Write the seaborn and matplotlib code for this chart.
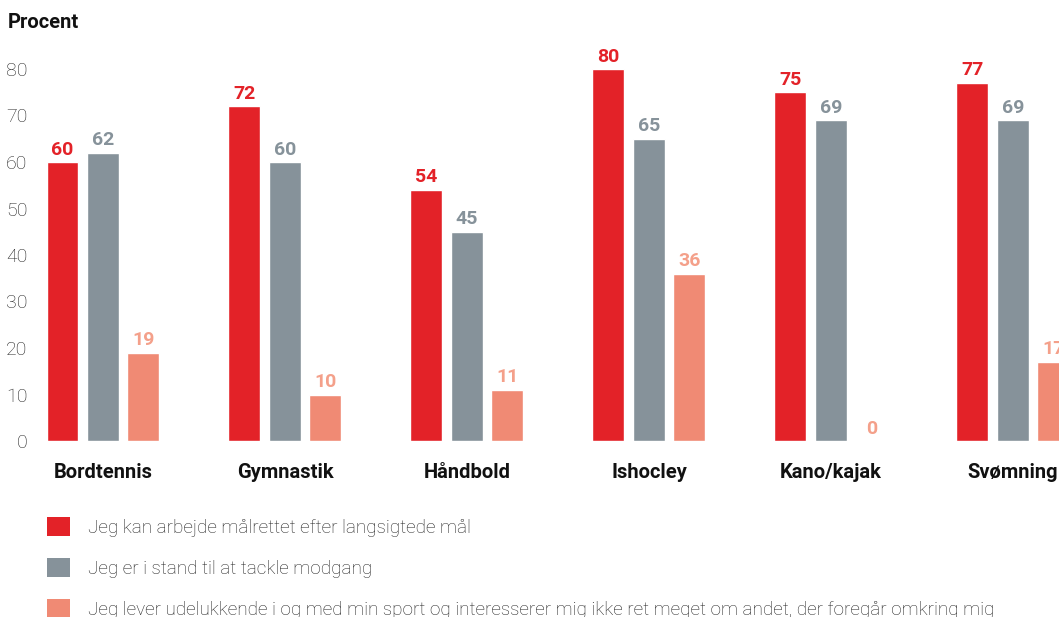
import matplotlib
matplotlib.use("Agg")
import matplotlib.pyplot as plt
from matplotlib.patches import Patch
from matplotlib.transforms import ScaledTranslation
import seaborn as sns
import pandas as pd

sports = ["Bordtennis", "Gymnastik", "Håndbold", "Ishocley", "Kano/kajak", "Svømning"]
series = [
    "Jeg kan arbejde målrettet efter langsigtede mål",
    "Jeg er i stand til at tackle modgang",
    "Jeg lever udelukkende i og med min sport og interesserer mig ikke ret meget om andet, der foregår omkring mig",
]
maal = [60, 72, 54, 80, 75, 77]
modgang = [62, 60, 45, 65, 69, 69]
kun_sport = [19, 10, 11, 36, 0, 17]
yticks = [0, 10, 20, 30, 40, 50, 60, 70, 80]

bar_colors = ["#E32228", "#86929A", "#F08A74"]
label_colors = ["#E32228", "#86929A", "#F4A08A"]

df = pd.DataFrame({
    "sport": sports * 3,
    "serie": [series[0]] * 6 + [series[1]] * 6 + [series[2]] * 6,
    "value": maal + modgang + kun_sport,
})

sns.set_theme(style="white")
plt.rcParams["font.family"] = ["Roboto", "DejaVu Sans"]

W, H = 1059, 617
fig = plt.figure(figsize=(W / 100, H / 100), dpi=100)
ax = fig.add_axes([37 / W, (H - 441) / H, (W - 37) / W, 395.25 / H])

sns.barplot(data=df, x="sport", y="value", hue="serie", hue_order=series,
            palette=bar_colors, width=0.6675, gap=0.21, saturation=1,
            legend=False, ax=ax)

for cont, col in zip(ax.containers, label_colors):
    ax.bar_label(cont, fmt="%d", padding=2.5, color=col, fontsize=14,
                 fontweight="bold", clip_on=False)

ax.set_xlim(-0.3626, 5.253)
ax.set_ylim(0, 85)
ax.set_yticks(yticks)
ax.set_yticklabels([str(v) for v in yticks], fontsize=14, fontweight="light", color="#222222")
lift = ScaledTranslation(0, 0.04, fig.dpi_scale_trans)
for lab in ax.get_yticklabels():
    lab.set_transform(lab.get_transform() + lift)
ax.tick_params(axis="y", length=0, pad=7)
ax.tick_params(axis="x", length=0, pad=15.5, labelsize=14.5, labelcolor="#111111")
for lab in ax.get_xticklabels():
    lab.set_fontweight("bold")
ax.set_xlabel("")
ax.set_ylabel("")
for s in ax.spines.values():
    s.set_visible(False)
ax.grid(False)

fig.text(8 / W, 1 - 22 / H, "Procent", fontsize=14.5, fontweight="bold",
         color="#111111", va="center", ha="left")

handles = [Patch(facecolor=c, edgecolor="none") for c in bar_colors]
fig.legend(handles, series, loc="upper left", bbox_to_anchor=(47 / W, 1 - 517 / H),
           frameon=False, borderpad=0, borderaxespad=0, handlelength=1.22,
           handleheight=1.17, handletextpad=0.95, labelspacing=1.12,
           prop={"size": 13.6, "weight": "light"}, labelcolor="#222222")

fig.savefig("out.png", dpi=100)
